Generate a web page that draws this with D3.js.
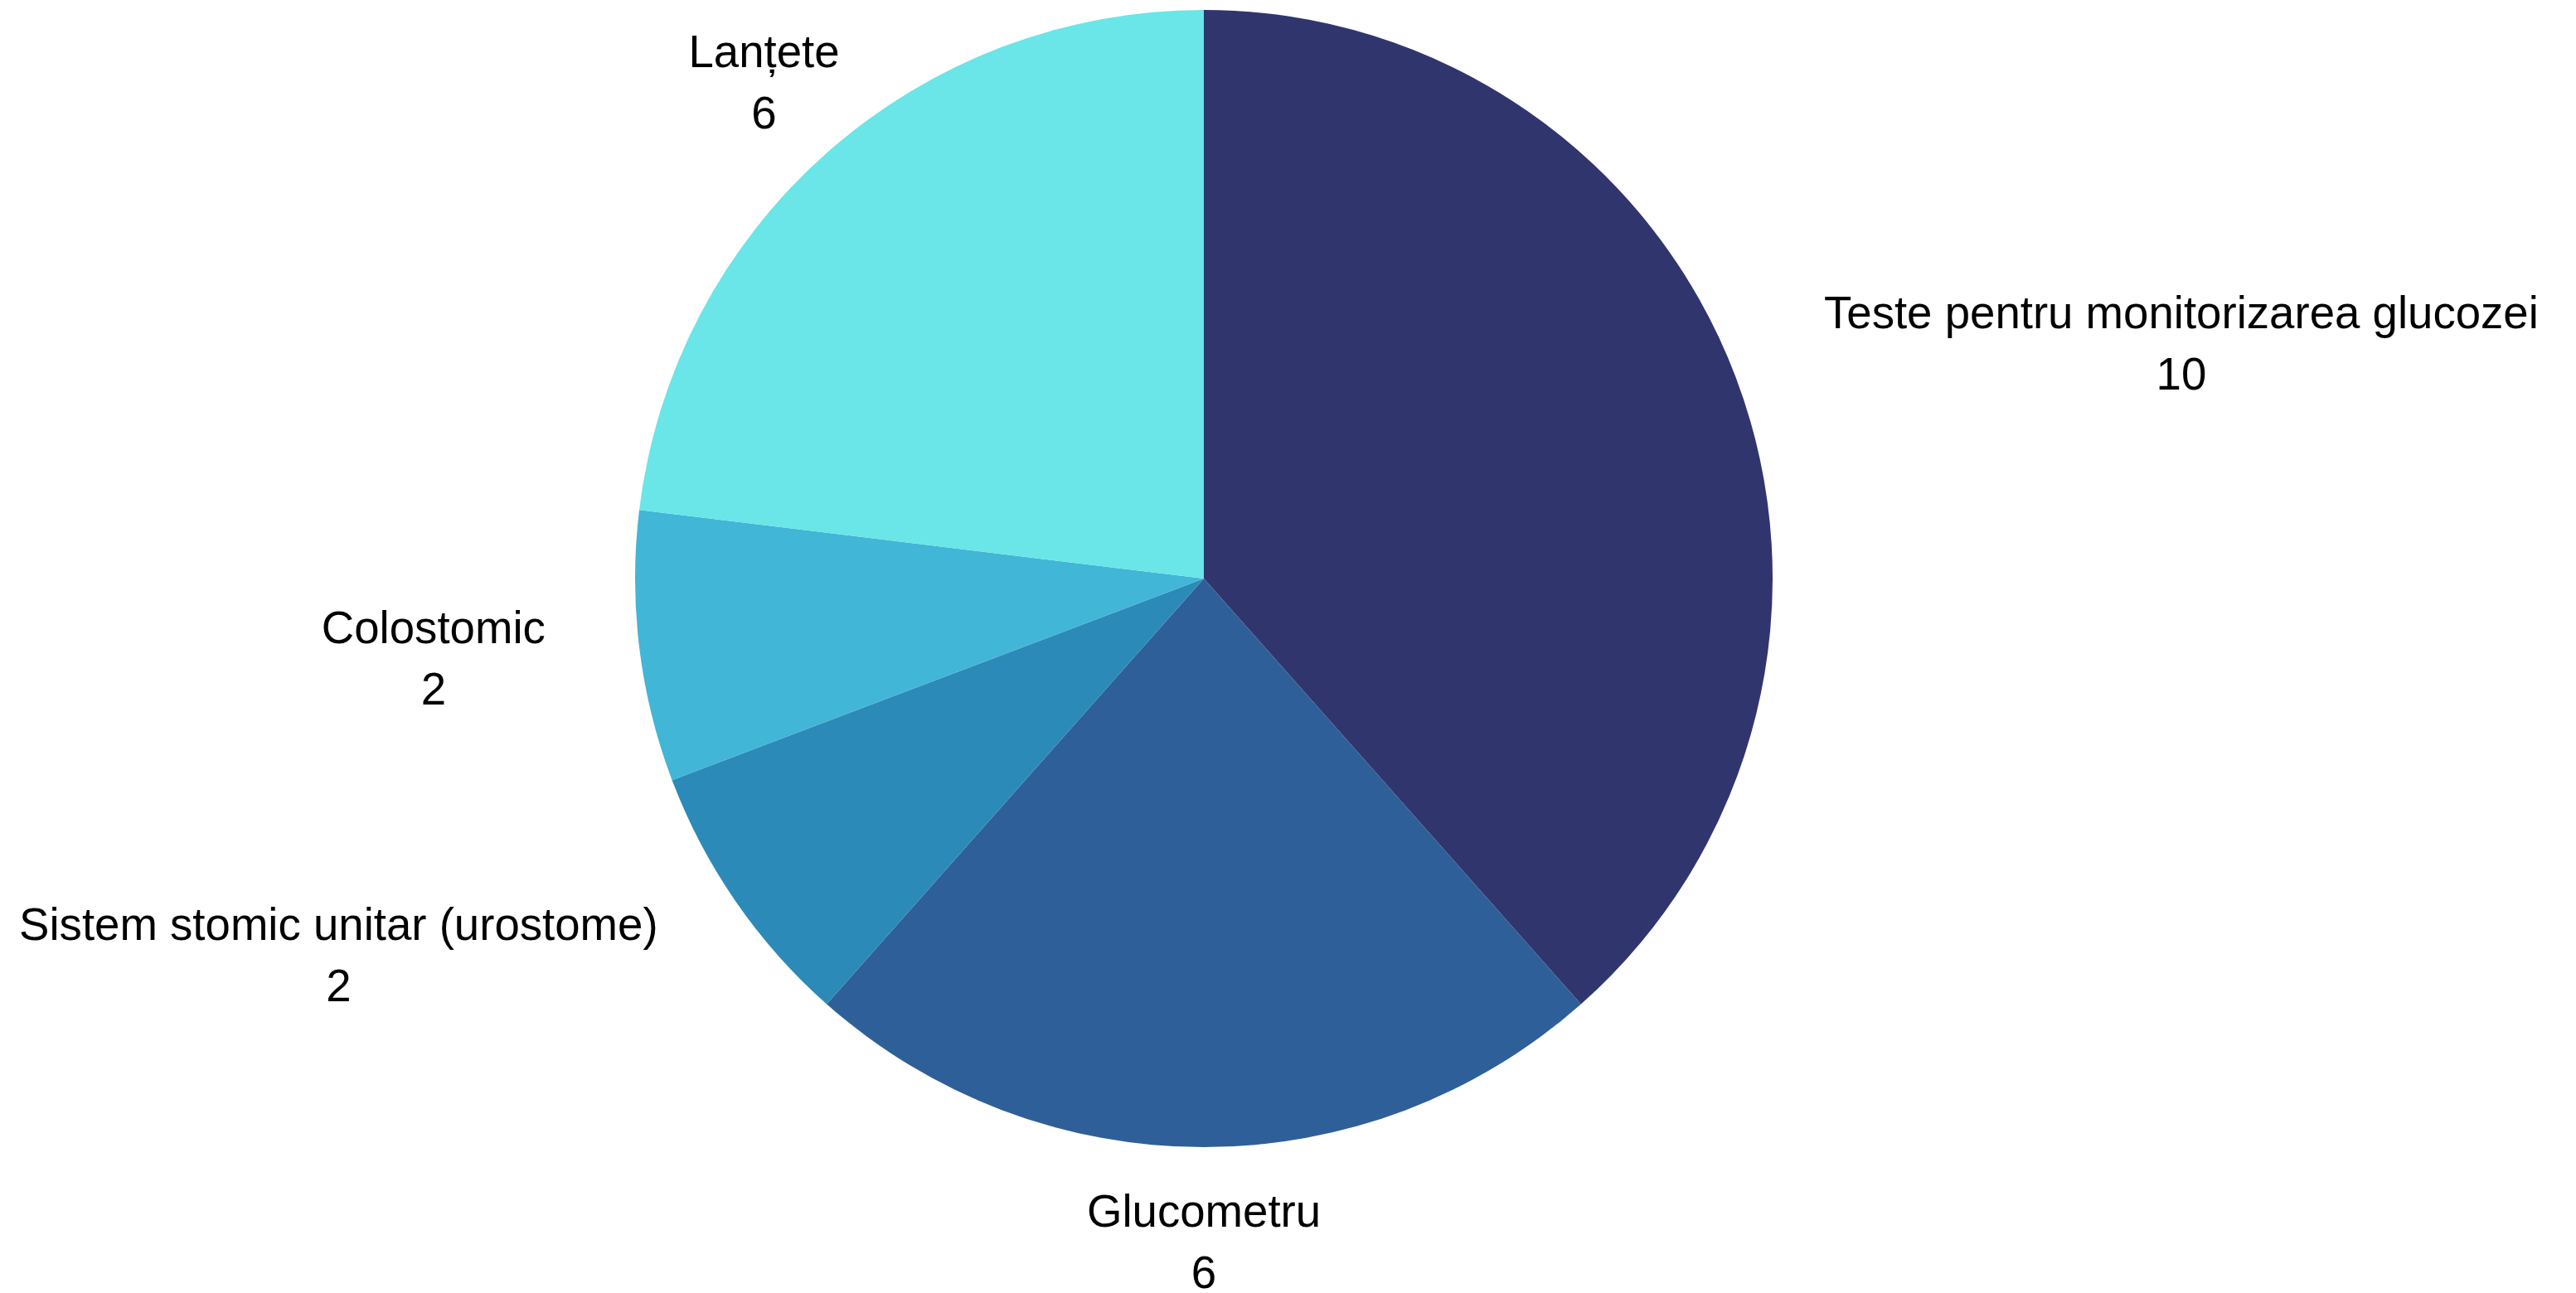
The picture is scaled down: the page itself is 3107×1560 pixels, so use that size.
<!DOCTYPE html>
<html>
<head>
<meta charset="utf-8">
<script src="https://cdn.jsdelivr.net/npm/d3@7"></script>
<style>
  html, body { margin: 0; padding: 0; background: #ffffff; }
  svg { display: block; }
</style>
</head>
<body>
<svg id="chart" width="3107" height="1560"></svg>
<script>
// Categories and counts, in clockwise order from 12 o'clock
const categories = [
  "Teste pentru monitorizarea glucozei",
  "Glucometru",
  "Sistem stomic unitar (urostome)",
  "Colostomic",
  "Lanțete"
];
const values = [10, 6, 2, 2, 6];
const colors = ["#31356e", "#2e5f98", "#2c8ab8", "#41b6d6", "#6ae5e8"];

const W = 3107, H = 1560;
const cx = 1452, cy = 698;
const radius = 686;
const labelRadius = 800;
const fontSize = 54.6;
const lineGap = 74;

const svg = d3.select("#chart");
const g = svg.append("g").attr("transform", `translate(${cx},${cy})`);

const data = categories.map((c, i) => ({ name: c, value: values[i], color: colors[i] }));

const pie = d3.pie().value(d => d.value).sort(null);
const arcs = pie(data);
const arc = d3.arc().innerRadius(0).outerRadius(radius);
const labelArc = d3.arc().innerRadius(labelRadius).outerRadius(labelRadius);

g.selectAll("path.slice")
  .data(arcs)
  .join("path")
  .attr("class", "slice")
  .attr("d", arc)
  .attr("fill", d => d.data.color);

// Labels: name and value on two lines, block centred vertically on the label point
const capHeight = 37;
const blockH = capHeight + lineGap;

const labels = g.selectAll("text.label")
  .data(arcs)
  .join("text")
  .attr("class", "label")
  .attr("font-family", "'Liberation Sans', Arial, sans-serif")
  .attr("font-size", fontSize)
  .attr("fill", "#000")
  .each(function(d) {
    const mid = (d.startAngle + d.endAngle) / 2;
    const [px, py] = labelArc.centroid(d);
    const s = Math.sin(mid);
    const anchor = s > 0.75 ? "start" : (s < -0.75 ? "end" : "middle");
    const firstBase = py - blockH / 2 + capHeight;
    const t = d3.select(this).attr("text-anchor", anchor);
    t.append("tspan").attr("x", px).attr("y", firstBase).text(d.data.name);
    t.append("tspan").attr("x", px)
      .attr("y", firstBase + lineGap)
      .attr("class", "val")
      .text(d.data.value);
  });

// Value line is centred under its name line
labels.each(function() {
  const t = d3.select(this);
  if (t.attr("text-anchor") === "middle") return;
  const bb = t.select("tspan").node().getBBox();
  t.select("tspan.val").attr("x", bb.x + bb.width / 2).attr("text-anchor", "middle");
});
</script>
</body>
</html>
